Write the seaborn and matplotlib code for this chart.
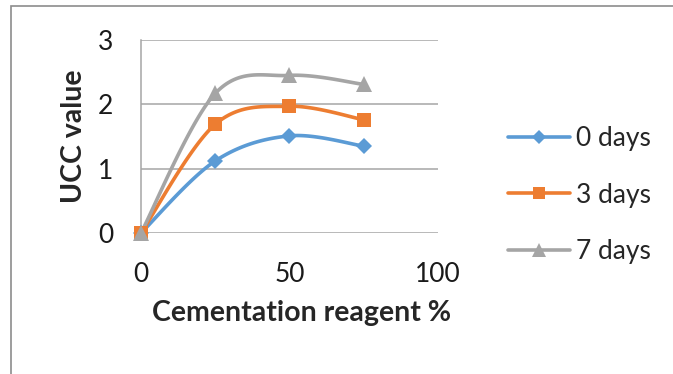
import numpy as np
import pandas as pd
import matplotlib
matplotlib.use("Agg")
import matplotlib.pyplot as plt
from matplotlib.lines import Line2D
from matplotlib.patches import Rectangle
import seaborn as sns

# Data
reagent = [0, 25, 50, 75]
ucc_0_days = [0, 1.12, 1.51, 1.35]
ucc_3_days = [0, 1.69, 1.97, 1.76]
ucc_7_days = [0, 2.17, 2.45, 2.31]
series_names = ["0 days", "3 days", "7 days"]
x_ticks = [0, 50, 100]
y_ticks = [0, 1, 2, 3]

colors = {"0 days": "#5B9BD5", "3 days": "#ED7D31", "7 days": "#A5A5A5"}
markers = {"0 days": "D", "3 days": "s", "7 days": "^"}
msizes = {"0 days": 8.5, "3 days": 10, "7 days": 11}

df = pd.DataFrame({
    "reagent": reagent * 3,
    "ucc": ucc_0_days + ucc_3_days + ucc_7_days,
    "series": sum([[n] * len(reagent) for n in series_names], []),
})

sns.set_theme(style="white")
plt.rcParams["font.family"] = ["Lato", "DejaVu Sans"]

TICK_FS = 19
LABEL_FS = 20.5

fig = plt.figure(figsize=(6.73, 3.74), dpi=100)
ax = fig.add_axes([0.2095, 0.377, 0.4413, 0.516])

# frame around the chart area
fig.patches.append(Rectangle((11 / 673, -0.1), 1.2, 1 - 6 / 374 + 0.1,
                             transform=fig.transFigure, fill=False,
                             edgecolor="#8C8C8C", linewidth=1.2))


def smooth(xs, ys, n=40):
    """Bezier smoothing through the points (control arms = neighbour chord / 6)."""
    p = np.column_stack([xs, ys]).astype(float)
    ext = np.vstack([p[0], p, p[-1]])
    out = []
    t = np.linspace(0, 1, n)[:, None]
    for i in range(len(p) - 1):
        p0, p3 = ext[i + 1], ext[i + 2]
        c1 = p0 + (ext[i + 2] - ext[i]) / 6
        c2 = p3 - (ext[i + 3] - ext[i + 1]) / 6
        seg = ((1 - t) ** 3) * p0 + 3 * ((1 - t) ** 2) * t * c1 + 3 * (1 - t) * t ** 2 * c2 + t ** 3 * p3
        out.append(seg)
    arr = np.vstack(out)
    return arr[:, 0], arr[:, 1]


for name in series_names:
    sub = df[df["series"] == name]
    sx, sy = smooth(sub["reagent"].values, sub["ucc"].values)
    ax.plot(sx, sy, color=colors[name], lw=2.6, solid_capstyle="round", zorder=3, clip_on=False)

sns.lineplot(data=df, x="reagent", y="ucc", hue="series", style="series",
             palette=colors, markers=markers, dashes=False, linewidth=0,
             markersize=9, markeredgewidth=0, legend=False, ax=ax, zorder=4)
for line, name in zip(ax.lines[len(series_names):], series_names):
    line.set_clip_on(False)
    line.set_linewidth(0)
    line.set_markersize(msizes[name])

ax.set_xlim(0, 100)
ax.set_ylim(0, 3)
ax.set_xticks(x_ticks)
ax.set_yticks(y_ticks)
ax.yaxis.grid(True, color="#A6A6A6", linewidth=1.1)
ax.set_axisbelow(True)
for s in ["top", "right", "bottom"]:
    ax.spines[s].set_visible(False)
ax.spines["left"].set_color("#A6A6A6")
ax.spines["left"].set_linewidth(1.1)
ax.tick_params(axis="both", length=0, labelsize=TICK_FS, colors="#1a1a1a")
ax.tick_params(axis="y", pad=20)
ax.tick_params(axis="x", pad=21)

ax.set_xlabel("Cementation reagent %", fontsize=LABEL_FS, fontweight="bold", labelpad=9)
ax.xaxis.label.set_x(0.542)
ax.set_ylabel("UCC value", fontsize=LABEL_FS, fontweight="bold", labelpad=8)

handles = [Line2D([], [], color=colors[n], lw=2.6, marker=markers[n],
                  markersize=msizes[n] - 1, markeredgewidth=0) for n in series_names]
fig.legend(handles, series_names, loc="center left", bbox_to_anchor=(508 / 673, 1 - 195 / 374),
           frameon=False, fontsize=TICK_FS, handlelength=2.35, handletextpad=0.23,
           labelspacing=1.2, borderpad=0, borderaxespad=0)

fig.savefig("out.png", dpi=100)
